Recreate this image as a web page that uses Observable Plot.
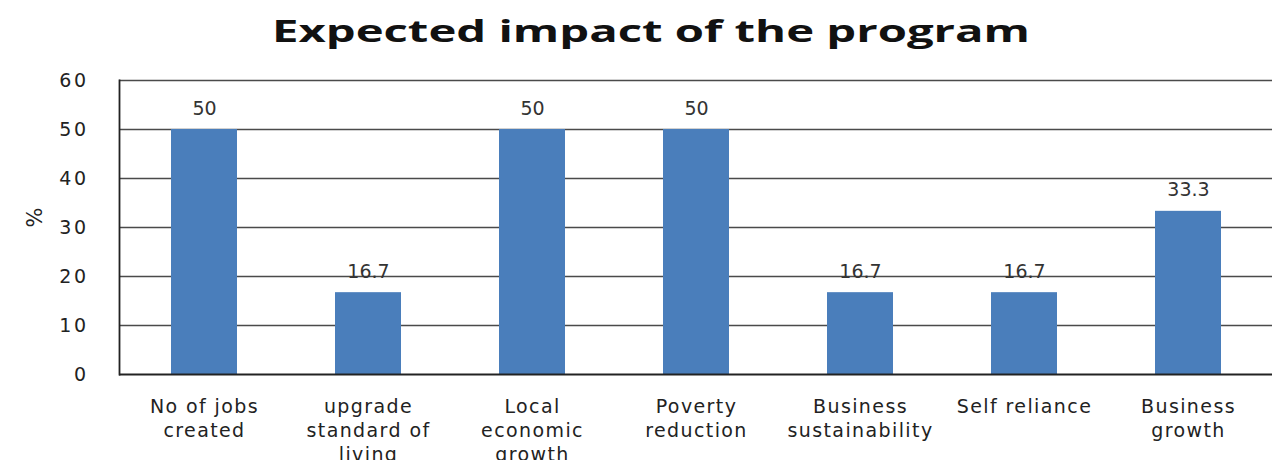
<!DOCTYPE html>
<html>
<head>
<meta charset="utf-8">
<script src="https://cdn.jsdelivr.net/npm/d3@7"></script>
<script src="https://cdn.jsdelivr.net/npm/@observablehq/plot@0.6"></script>
<style>
  html, body { margin: 0; padding: 0; background: #fff; overflow: hidden; }
  #title { height: 62px; width: 1272px; text-align: center; position: relative; }
  #title span { position: absolute; left: 651px; top: 30px; transform: translate(-50%, -50%); font-family: "Open Sans", sans-serif; font-weight: 700; font-size: 31px; color: #111; white-space: nowrap; }
</style>
</head>
<body>
<div id="title"><span id="t">Expected impact of the program</span></div>
<div id="chart"></div>
<script>
const categories = ["No of jobs created", "upgrade standard of living", "Local economic growth", "Poverty reduction", "Business sustainability", "Self reliance", "Business growth"];
const tickLabels = ["No of jobs\ncreated", "upgrade\nstandard of\nliving", "Local\neconomic\ngrowth", "Poverty\nreduction", "Business\nsustainability", "Self reliance", "Business\ngrowth"];
const values = [50, 16.7, 50, 50, 16.7, 16.7, 33.3];
const valueLabels = ["50", "16.7", "50", "50", "16.7", "16.7", "33.3"];
const yTicks = [0, 10, 20, 30, 40, 50, 60];
const gridTicks = [10, 20, 30, 40, 50, 60];

const data = categories.map((c, i) => ({category: c, value: values[i], label: valueLabels[i]}));
const labelOf = new Map(categories.map((c, i) => [c, tickLabels[i]]));

const plot = Plot.plot({
  width: 1272,
  height: 398,
  marginLeft: 119,
  marginRight: 0,
  marginTop: 18,
  marginBottom: 86,
  style: {fontFamily: "'DejaVu Sans', sans-serif", color: "#222", background: "#fff"},
  x: {domain: categories, paddingInner: 0.6, paddingOuter: 0.3, label: null},
  y: {domain: [0, 60], label: null},
  marks: [
    Plot.ruleY(gridTicks, {stroke: "#4a4a4a", strokeWidth: 1.6}),
    Plot.barY(data, {x: "category", y: "value", fill: "#4a7ebb"}),
    Plot.ruleY([0], {stroke: "#222", strokeWidth: 1.8}),
    Plot.frame({anchor: "left", stroke: "#222", strokeWidth: 1.8}),
    Plot.text(data, {x: "category", y: "value", text: "label", dy: -21, fontSize: 19, fill: "#333", style: "letter-spacing:2.5px"}),
    Plot.axisY({ticks: yTicks, tickSize: 0, tickPadding: 31, fontSize: 19, label: null}),
    Plot.axisX({tickSize: 0, tickPadding: 21, fontSize: 19, lineHeight: 1.27, tickFormat: d => labelOf.get(d), label: null}),
    Plot.text(["%"], {frameAnchor: "left", dx: -84, rotate: -90, fontSize: 21, fill: "#222"})
  ]
});
document.getElementById("chart").appendChild(plot);
plot.querySelectorAll("g[aria-label='x-axis tick label'] text").forEach(t => { t.style.letterSpacing = "1.4px"; t.style.fill = "#222"; });
plot.querySelectorAll("g[aria-label='y-axis tick label'] text").forEach(t => { t.style.letterSpacing = "2.5px"; t.style.fill = "#222"; });
const t = document.getElementById("t");
const w = t.getBoundingClientRect().width;
t.style.transform = `translate(-50%, -50%) scaleX(${758 / w})`;
</script>
</body>
</html>
